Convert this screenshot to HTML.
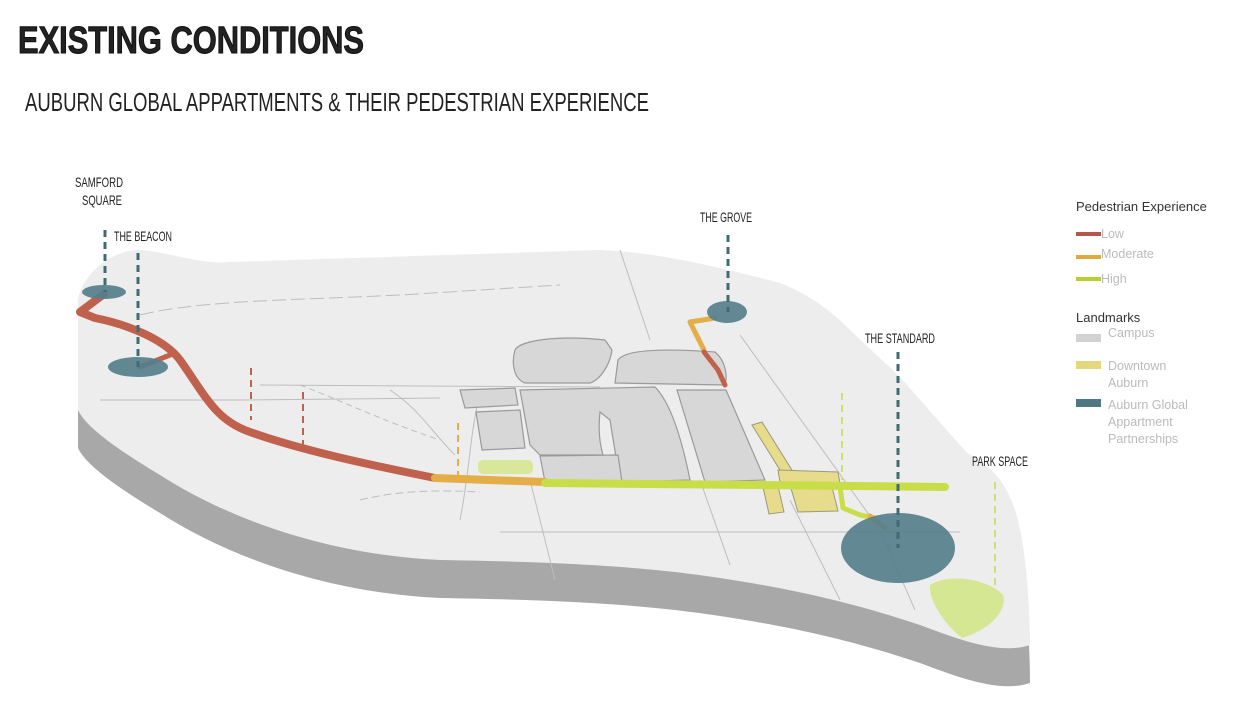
<!DOCTYPE html>
<html><head><meta charset="utf-8"><style>
html,body{margin:0;padding:0;background:#fff;width:1241px;height:720px;overflow:hidden}
svg{display:block}
.lbl{font-family:"Liberation Sans",sans-serif;fill:#222}
.leg{font-family:"Liberation Sans",sans-serif;font-size:12.5px;fill:#bbb}
</style></head><body>
<svg width="1241" height="720" viewBox="0 0 1241 720">
<text x="18" y="53" class="lbl" font-weight="bold" font-size="38" textLength="346" lengthAdjust="spacingAndGlyphs" fill="#111" stroke="#111" stroke-width="1">EXISTING CONDITIONS</text>
<text x="25" y="111" class="lbl" font-size="26" textLength="624" lengthAdjust="spacingAndGlyphs" fill="#111">AUBURN GLOBAL APPARTMENTS &amp; THEIR PEDESTRIAN EXPERIENCE</text>

<!-- extrusion -->
<path transform="translate(0,38)" d="M78 300 C82 275 110 250 140 250 C170 252 200 265 230 262 L600 250 C650 252 700 262 780 283 C810 295 830 310 850 330 L900 377 L967 453 C990 465 1005 480 1015 510 C1025 540 1030 600 1030 645 C1000 655 960 640 920 625 C860 605 800 590 720 578 C640 566 560 562 440 560 C330 555 230 520 160 475 C110 445 85 425 78 410 Z" fill="#a8a8a8"/>
<!-- top surface -->
<path d="M78 300 C82 275 110 250 140 250 C170 252 200 265 230 262 L600 250 C650 252 700 262 780 283 C810 295 830 310 850 330 L900 377 L967 453 C990 465 1005 480 1015 510 C1025 540 1030 600 1030 645 C1000 655 960 640 920 625 C860 605 800 590 720 578 C640 566 560 562 440 560 C330 555 230 520 160 475 C110 445 85 425 78 410 Z" fill="#ededed"/>

<!-- thin roads -->
<g stroke="#bdbdbd" stroke-width="1" fill="none">
<path d="M140 315 C200 300 300 300 400 295 L560 285" stroke-dasharray="14 5"/>
<path d="M100 400 L240 400 L440 398"/>
<path d="M260 385 L600 387"/>
<path d="M300 385 C340 400 380 420 440 440" stroke-dasharray="6 4"/>
<path d="M390 390 C420 410 430 430 455 455"/>
<path d="M360 500 C400 490 440 490 480 492" stroke-dasharray="8 4"/>
<path d="M480 395 C470 430 470 470 460 520"/>
<path d="M620 250 L650 340"/>
<path d="M740 335 L880 530 L915 610"/>
<path d="M530 480 L555 580"/>
<path d="M700 480 L730 565"/>
<path d="M500 532 L960 532"/>
<path d="M790 500 L840 600"/>
</g>

<!-- campus buildings -->
<g fill="#d7d7d7" stroke="#9a9a9a" stroke-width="1.2">
<path d="M515 350 C520 340 560 335 605 340 L612 350 C610 365 600 380 590 383 L525 383 C512 378 512 360 515 350 Z"/>
<path d="M618 360 C625 350 660 348 715 352 C725 360 728 375 725 385 L615 383 Z"/>
<path d="M520 390 L655 387 C668 400 680 430 690 480 L620 482 L610 420 L600 412 C598 430 600 445 603 455 L540 455 L530 445 Z"/>
<path d="M677 390 L726 390 L765 480 L705 482 Z"/>
<path d="M540 456 L618 455 L622 482 L545 482 Z"/>
<path d="M460 390 L515 388 L518 405 L465 408 Z"/>
<path d="M476 412 L520 410 L525 448 L482 450 Z"/>
</g>
<rect x="478" y="460" width="55" height="14" rx="5" fill="#d3e58a" opacity="0.85"/>

<!-- downtown -->
<g fill="#e6dc8c" stroke="#9a9a7a" stroke-width="1">
<path d="M752 425 L762 422 L795 475 L785 478 Z"/>
<path d="M778 470 L838 472 L840 484 L780 482 Z"/>
<path d="M763 487 L778 486 L784 512 L769 514 Z"/>
<path d="M790 485 L832 487 L838 511 L798 512 Z"/>
</g>

<!-- routes -->
<g fill="none" stroke-linecap="round" stroke-linejoin="round">
<path d="M104 294 L80 312 L95 318 C130 325 165 340 180 360 C205 395 215 420 250 432 C300 450 370 465 435 478" stroke="#c0614e" stroke-width="8"/>
<path d="M140 367 L170 355" stroke="#c0614e" stroke-width="5"/>
<path d="M435 478 L545 482" stroke="#e3ad48" stroke-width="8"/>
<path d="M545 483 L760 485 L945 487" stroke="#c8dd48" stroke-width="8"/>
<path d="M840 487 L843 508 L860 515 L876 518" stroke="#c8dd48" stroke-width="5"/>
<path d="M870 516 L885 528" stroke="#e3ad48" stroke-width="5"/>
<path d="M715 318 L690 322 L704 350" stroke="#e3ad48" stroke-width="5"/>
<path d="M704 352 L718 370 L725 385" stroke="#c0614e" stroke-width="5"/>
</g>

<!-- landmarks -->
<g fill="#567f8b" opacity="0.92">
<ellipse cx="104" cy="292" rx="22" ry="7"/>
<ellipse cx="138" cy="367" rx="30" ry="10"/>
<ellipse cx="727" cy="312" rx="20" ry="11"/>
<ellipse cx="898" cy="548" rx="57" ry="35"/>
</g>
<path d="M930 585 C950 572 990 580 1003 595 C1008 610 990 630 962 638 C945 625 928 600 930 585 Z" fill="#d3e58a" opacity="0.9"/>

<!-- dashed leaders -->
<g stroke-dasharray="7 5" fill="none">
<line x1="105" y1="230" x2="105" y2="292" stroke="#3f6b73" stroke-width="3"/>
<line x1="138" y1="253" x2="138" y2="367" stroke="#3f6b73" stroke-width="3"/>
<line x1="728" y1="235" x2="728" y2="312" stroke="#3f6b73" stroke-width="3"/>
<line x1="898" y1="352" x2="898" y2="548" stroke="#3f6b73" stroke-width="3"/>
<line x1="251" y1="368" x2="251" y2="420" stroke="#c0614e" stroke-width="2"/>
<line x1="303" y1="392" x2="303" y2="445" stroke="#c0614e" stroke-width="2"/>
<line x1="458" y1="423" x2="458" y2="476" stroke="#e3ad48" stroke-width="2"/>
<line x1="842" y1="393" x2="842" y2="480" stroke="#d0e070" stroke-width="2"/>
<line x1="995" y1="482" x2="995" y2="590" stroke="#d0e070" stroke-width="2"/>
</g>

<!-- labels -->
<g class="lbl" font-size="14" fill="#111">
<text x="75" y="187" textLength="48" lengthAdjust="spacingAndGlyphs">SAMFORD</text>
<text x="82" y="205" textLength="40" lengthAdjust="spacingAndGlyphs">SQUARE</text>
<text x="114" y="241" textLength="58" lengthAdjust="spacingAndGlyphs">THE BEACON</text>
<text x="700" y="222" textLength="52" lengthAdjust="spacingAndGlyphs">THE GROVE</text>
<text x="865" y="343" textLength="70" lengthAdjust="spacingAndGlyphs">THE STANDARD</text>
<text x="972" y="466" textLength="56" lengthAdjust="spacingAndGlyphs">PARK SPACE</text>
</g>

<!-- legend -->
<text x="1076" y="211" font-family="Liberation Sans,sans-serif" font-size="13" fill="#333">Pedestrian Experience</text>
<rect x="1076" y="232" width="25" height="4" fill="#b5564a"/><text x="1101" y="238" class="leg">Low</text>
<rect x="1076" y="255" width="25" height="4" fill="#e0a93e"/><text x="1101" y="258" class="leg">Moderate</text>
<rect x="1076" y="277" width="25" height="4" fill="#b5d034"/><text x="1101" y="283" class="leg">High</text>
<text x="1076" y="322" font-family="Liberation Sans,sans-serif" font-size="13" fill="#333">Landmarks</text>
<rect x="1076" y="334" width="25" height="8" fill="#d2d2d2"/><text x="1108" y="337" class="leg">Campus</text>
<rect x="1076" y="361" width="25" height="8" fill="#e4d77e"/><text x="1108" y="370" class="leg">Downtown</text><text x="1108" y="387" class="leg">Auburn</text>
<rect x="1076" y="399" width="25" height="8" fill="#4f7882"/><text x="1108" y="409" class="leg">Auburn Global</text><text x="1108" y="426" class="leg">Appartment</text><text x="1108" y="443" class="leg">Partnerships</text>
</svg>
</body></html>
